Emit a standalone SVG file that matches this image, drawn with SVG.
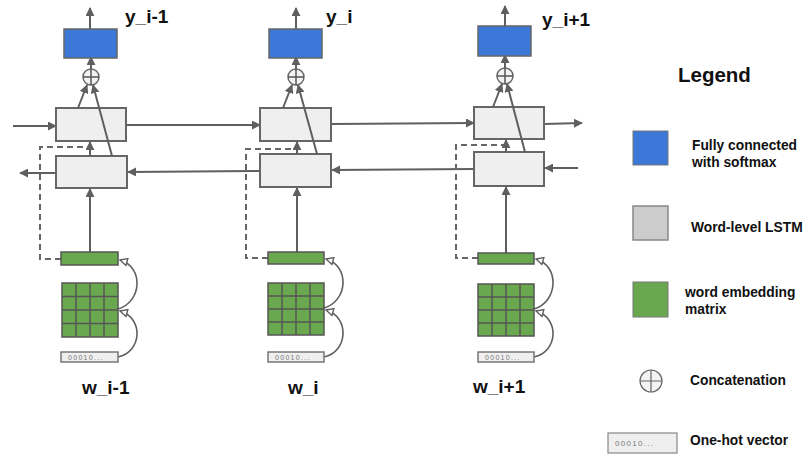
<svg xmlns="http://www.w3.org/2000/svg" width="805" height="457" viewBox="0 0 805 457">
<defs>
<style>
.fc{fill:#3c78d8;stroke:#666;stroke-width:1.5}
.lstm{fill:#efefef;stroke:#666;stroke-width:2}
.emb{fill:#6aa84f;stroke:#555;stroke-width:1.5}
.grid{stroke:#555;stroke-width:1.5;fill:none}
.oh{fill:#efefef;stroke:#777;stroke-width:1.5}
.ohT{font-family:"Liberation Sans",Arial,sans-serif;font-size:7px;fill:#777;letter-spacing:1.3px}
.cat{fill:#f3f3f3;stroke:#666;stroke-width:1.5}
.lbl{font-family:"Liberation Sans",Arial,sans-serif;font-weight:bold;font-size:19px;fill:#111}
.leg{font-family:"Liberation Sans",Arial,sans-serif;font-weight:bold;font-size:13.8px;fill:#111}
.ln{stroke:#5f5f5f;stroke-width:2;fill:none}
.ar{marker-end:url(#ah)}
.dash{stroke:#666;stroke-width:2;fill:none;stroke-dasharray:6,4}
.cv{stroke:#5f5f5f;stroke-width:1.6;fill:none;marker-end:url(#oh)}
</style>
<marker id="ah" viewBox="0 0 10 10" markerWidth="9" markerHeight="9" refX="9" refY="5" orient="auto" markerUnits="userSpaceOnUse">
<path d="M0,0 L10,5 L0,10 z" fill="#5f5f5f"/>
</marker>
<marker id="oh" viewBox="0 0 10 10" markerWidth="9" markerHeight="9" refX="9" refY="5" orient="auto" markerUnits="userSpaceOnUse">
<path d="M1,1 L9,5 L1,9 z" fill="#fff" stroke="#5f5f5f" stroke-width="1.5"/>
</marker>
</defs>
<rect width="805" height="457" fill="#fff"/>

<g id="connectors">
<line class="ln ar" x1="90" y1="29" x2="90" y2="8"/>
<line class="ln ar" x1="296" y1="29" x2="296" y2="8"/>
<line class="ln ar" x1="505" y1="26" x2="505" y2="6"/>
<line class="ln ar" x1="91" y1="69" x2="91" y2="57"/>
<line class="ln ar" x1="296" y1="69" x2="296" y2="57"/>
<line class="ln ar" x1="505" y1="68" x2="505" y2="55"/>
<line class="ln ar" x1="13" y1="126" x2="56" y2="126"/>
<line class="ln ar" x1="126" y1="125" x2="260" y2="125"/>
<line class="ln ar" x1="331" y1="124" x2="474" y2="123"/>
<line class="ln ar" x1="544" y1="124" x2="582" y2="123"/>
<line class="ln ar" x1="578" y1="168" x2="545" y2="168"/>
<line class="ln ar" x1="474" y1="169" x2="332" y2="170"/>
<line class="ln ar" x1="260" y1="171" x2="128" y2="172"/>
<line class="ln ar" x1="56" y1="173" x2="20" y2="173"/>
<line class="ln ar" x1="90" y1="252" x2="90" y2="189"/>
<line class="ln ar" x1="297" y1="252" x2="297" y2="188"/>
<line class="ln ar" x1="506" y1="253" x2="506" y2="187"/>
<path class="dash" d="M61,259 H40 V147 H88"/>
<path class="dash" d="M268,258 H246 V149 H295"/>
<path class="dash" d="M478,258 H456 V145 H504"/>
<line class="ln ar" x1="90" y1="156" x2="90" y2="142"/>
<line class="ln ar" x1="297" y1="154" x2="297" y2="142"/>
<line class="ln ar" x1="506" y1="152" x2="506" y2="140"/>
<path class="cv" d="M118,357 C142,352 144,318 120,311"/>
<path class="cv" d="M118,309 C142,302 144,267 120,260"/>
<path class="cv" d="M324,357 C348,352 350,317 326,310"/>
<path class="cv" d="M324,308 C348,301 350,266 326,259"/>
<path class="cv" d="M534,357 C558,352 560,318 536,311"/>
<path class="cv" d="M534,309 C558,302 560,266 536,259"/>
</g>

<g id="fc1"><rect class="fc" x="64" y="29" width="53" height="29"/></g>
<g id="lstmF1"><rect class="lstm" x="56" y="108" width="70" height="33"/></g>
<g id="lstmB1"><rect class="lstm" x="56" y="156" width="71" height="32"/></g>
<g id="emb1"><rect class="emb" x="61" y="252" width="57" height="13"/></g>
<g id="mat1">
<rect class="emb" x="62" y="283" width="56" height="54"/>
<path class="grid" d="M76,283 V337 M90,283 V337 M104,283 V337 M62,296.5 H118 M62,310 H118 M62,323.5 H118"/>
</g>
<g id="oh1"><rect class="oh" x="61" y="352" width="57" height="10"/><text class="ohT" x="68" y="360">00010...</text></g>
<g id="cat1"><circle class="cat" cx="91" cy="77" r="8"/><path class="grid" d="M83,77 H99 M91,69 V85"/></g>
<line class="ln ar" x1="78" y1="108" x2="87" y2="85"/>
<line class="ln ar" x1="112" y1="156" x2="93" y2="85"/>
<text class="lbl" x="125" y="23">y_i-1</text>
<text class="lbl" x="82" y="394">w_i-1</text>

<g id="fc2"><rect class="fc" x="269" y="29" width="53" height="29"/></g>
<g id="lstmF2"><rect class="lstm" x="260" y="108" width="71" height="33"/></g>
<g id="lstmB2"><rect class="lstm" x="260" y="154" width="71" height="33"/></g>
<g id="emb2"><rect class="emb" x="268" y="252" width="56" height="12"/></g>
<g id="mat2">
<rect class="emb" x="268" y="283" width="56" height="52"/>
<path class="grid" d="M282,283 V335 M296,283 V335 M310,283 V335 M268,296 H324 M268,309 H324 M268,322 H324"/>
</g>
<g id="oh2"><rect class="oh" x="268" y="352" width="56" height="10"/><text class="ohT" x="275" y="360">00010...</text></g>
<g id="cat2"><circle class="cat" cx="296" cy="77" r="8"/><path class="grid" d="M288,77 H304 M296,69 V85"/></g>
<line class="ln ar" x1="283" y1="108" x2="292" y2="85"/>
<line class="ln ar" x1="317" y1="154" x2="298" y2="85"/>
<text class="lbl" x="326" y="23">y_i</text>
<text class="lbl" x="288" y="394">w_i</text>

<g id="fc3"><rect class="fc" x="478" y="26" width="53" height="30"/></g>
<g id="lstmF3"><rect class="lstm" x="474" y="107" width="70" height="32"/></g>
<g id="lstmB3"><rect class="lstm" x="474" y="152" width="70" height="34"/></g>
<g id="emb3"><rect class="emb" x="478" y="253" width="56" height="11"/></g>
<g id="mat3">
<rect class="emb" x="478" y="284" width="56" height="52"/>
<path class="grid" d="M492,284 V336 M506,284 V336 M520,284 V336 M478,297 H534 M478,310 H534 M478,323 H534"/>
</g>
<g id="oh3"><rect class="oh" x="478" y="352" width="56" height="10"/><text class="ohT" x="485" y="360">00010...</text></g>
<g id="cat3"><circle class="cat" cx="505" cy="76" r="8"/><path class="grid" d="M497,76 H513 M505,68 V84"/></g>
<line class="ln ar" x1="493" y1="107" x2="502" y2="84"/>
<line class="ln ar" x1="525" y1="152" x2="507" y2="84"/>
<text class="lbl" x="542" y="26">y_i+1</text>
<text class="lbl" x="473" y="393">w_i+1</text>

<g id="legend">
<text class="lbl" x="678" y="82" style="font-size:20.5px">Legend</text>
<rect x="633" y="131" width="35" height="34" fill="#3c78d8" stroke="#777" stroke-width="1"/>
<text class="leg" x="692" y="150">Fully connected</text>
<text class="leg" x="692" y="167">with softmax</text>
<rect x="633" y="206" width="35" height="34" fill="#cccccc" stroke="#888" stroke-width="1.5"/>
<text class="leg" x="691" y="232">Word-level LSTM</text>
<rect x="633" y="282" width="35" height="35" fill="#6aa84f" stroke="#777" stroke-width="1"/>
<text class="leg" x="685" y="297">word embedding</text>
<text class="leg" x="685" y="314">matrix</text>
<circle cx="651" cy="381" r="11" fill="#f3f3f3" stroke="#666" stroke-width="1.2"/>
<path d="M640,381 H662 M651,370 V392" stroke="#666" stroke-width="1.2"/>
<text class="leg" x="690" y="385">Concatenation</text>
<rect x="608" y="433" width="69" height="20" fill="#efefef" stroke="#888" stroke-width="1.2"/>
<text class="ohT" x="615" y="446" style="font-size:8px">00010...</text>
<text class="leg" x="690" y="445">One-hot vector</text>
</g>
</svg>
